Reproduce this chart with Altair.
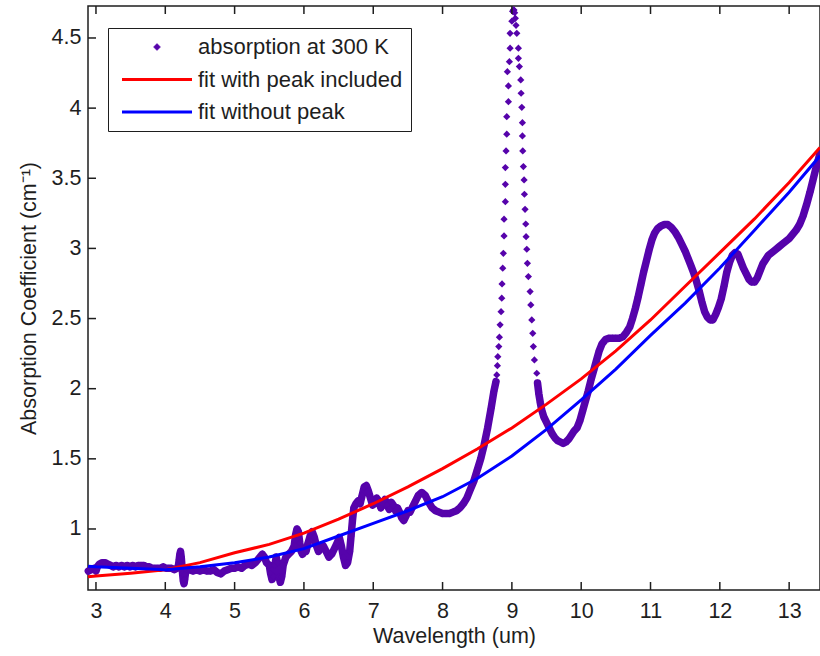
import altair as alt
import pandas as pd

FONT = "Liberation Sans"
FS = 21.5
PURPLE = "#5603AB"
RED = "#FF0000"
BLUE = "#0000FF"
INK = "#1e1e1e"

series_labels = ["absorption at 300 K", "fit with peak included", "fit without peak"]

# measured absorption (outside the narrow 9 um peak)
abs_x = [2.89, 2.93, 2.97, 3.00, 3.02, 3.05, 3.09, 3.13, 3.17, 3.21, 3.25, 3.29, 3.33, 3.37,
         3.41, 3.45, 3.49, 3.53, 3.57, 3.61, 3.65, 3.69, 3.73, 3.77, 3.81, 3.85, 3.89, 3.93,
         3.97, 4.01, 4.05, 4.09, 4.13, 4.17, 4.19, 4.20, 4.21, 4.22, 4.23, 4.24, 4.25, 4.26,
         4.27, 4.28, 4.29, 4.31, 4.35, 4.40, 4.45, 4.50, 4.55, 4.60, 4.65, 4.70, 4.75, 4.80,
         4.85, 4.90, 4.95, 5.00, 5.05, 5.10, 5.15, 5.20, 5.25, 5.30, 5.35, 5.40, 5.43, 5.46,
         5.50, 5.52, 5.54, 5.56, 5.58, 5.60, 5.62, 5.64, 5.66, 5.68, 5.70, 5.74, 5.78, 5.82,
         5.86, 5.88, 5.90, 5.92, 5.94, 5.96, 5.98, 6.00, 6.03, 6.06, 6.09, 6.12, 6.15, 6.18,
         6.21, 6.24, 6.28, 6.32, 6.36, 6.40, 6.44, 6.48, 6.51, 6.54, 6.57, 6.60, 6.63, 6.66,
         6.68, 6.70, 6.72, 6.75, 6.78, 6.81, 6.84, 6.87, 6.90, 6.93, 6.96, 6.99, 7.02, 7.05,
         7.08, 7.11, 7.14, 7.17, 7.20, 7.23, 7.26, 7.29, 7.32, 7.35, 7.38, 7.41, 7.44, 7.47,
         7.50, 7.53, 7.56, 7.60, 7.65, 7.70, 7.75, 7.80, 7.85, 7.90, 7.95, 8.00, 8.05, 8.10,
         8.15, 8.20, 8.25, 8.30, 8.35, 8.40, 8.45, 8.50, 8.55, 8.60, 8.65, 8.70, 8.74, 8.77,
         9.37, 9.39, 9.41, 9.43, 9.46, 9.50, 9.54, 9.58, 9.62, 9.66, 9.70, 9.74, 9.78, 9.82,
         9.86, 9.90, 9.94, 9.98, 10.02, 10.06, 10.10, 10.14, 10.18, 10.22, 10.26, 10.30, 10.35,
         10.40, 10.45, 10.50, 10.55, 10.60, 10.65, 10.70, 10.74, 10.78, 10.82, 10.86, 10.90,
         10.94, 10.98, 11.02, 11.06, 11.10, 11.15, 11.20, 11.25, 11.30, 11.35, 11.40, 11.45,
         11.50, 11.54, 11.58, 11.62, 11.66, 11.70, 11.74, 11.78, 11.82, 11.86, 11.90, 11.94,
         11.98, 12.02, 12.06, 12.10, 12.14, 12.18, 12.22, 12.26, 12.30, 12.34, 12.38, 12.42,
         12.46, 12.50, 12.54, 12.58, 12.62, 12.66, 12.70, 12.75, 12.80, 12.85, 12.90, 12.95,
         13.00, 13.05, 13.10, 13.15, 13.20, 13.25, 13.30, 13.34, 13.38, 13.42, 13.445]
abs_y = [0.70, 0.71, 0.72, 0.70, 0.73, 0.75, 0.76, 0.76, 0.75, 0.74, 0.73, 0.74, 0.73, 0.74,
         0.73, 0.74, 0.73, 0.74, 0.73, 0.74, 0.74, 0.74, 0.73, 0.73, 0.72, 0.72, 0.72, 0.72,
         0.73, 0.72, 0.72, 0.72, 0.71, 0.72, 0.74, 0.78, 0.82, 0.84, 0.80, 0.74, 0.68, 0.63,
         0.61, 0.64, 0.68, 0.71, 0.71, 0.70, 0.71, 0.70, 0.71, 0.70, 0.70, 0.71, 0.69, 0.68,
         0.70, 0.71, 0.72, 0.72, 0.73, 0.72, 0.74, 0.75, 0.74, 0.76, 0.79, 0.82, 0.80, 0.76,
         0.74, 0.68, 0.64, 0.66, 0.74, 0.80, 0.76, 0.66, 0.62, 0.66, 0.74, 0.80, 0.82, 0.84,
         0.88, 0.96, 1.00, 0.98, 0.90, 0.84, 0.82, 0.86, 0.84, 0.90, 0.95, 0.98, 0.94, 0.88,
         0.84, 0.86, 0.88, 0.84, 0.80, 0.82, 0.86, 0.90, 0.94, 0.88, 0.80, 0.74, 0.76, 0.84,
         0.95, 1.06, 1.15, 1.18, 1.20, 1.18, 1.24, 1.30, 1.31, 1.27, 1.22, 1.17, 1.18, 1.22,
         1.20, 1.15, 1.18, 1.21, 1.17, 1.14, 1.19, 1.17, 1.13, 1.15, 1.12, 1.08, 1.06, 1.09,
         1.13, 1.12, 1.15, 1.19, 1.24, 1.26, 1.24, 1.19, 1.15, 1.13, 1.12, 1.11, 1.11, 1.11,
         1.12, 1.13, 1.15, 1.18, 1.22, 1.28, 1.34, 1.42, 1.50, 1.60, 1.72, 1.86, 1.98, 2.05,
         2.04, 1.96, 1.90, 1.85, 1.80, 1.76, 1.72, 1.68, 1.65, 1.63, 1.62, 1.61, 1.62, 1.64,
         1.67, 1.70, 1.72, 1.77, 1.84, 1.91, 1.98, 2.06, 2.13, 2.20, 2.27, 2.32, 2.35,
         2.36, 2.36, 2.36, 2.36, 2.37, 2.40, 2.44, 2.50, 2.57, 2.65, 2.74, 2.83,
         2.91, 2.99, 3.06, 3.11, 3.14, 3.16, 3.17, 3.17, 3.15, 3.12, 3.08, 3.03,
         2.98, 2.93, 2.88, 2.83, 2.77, 2.70, 2.62, 2.55, 2.51, 2.49, 2.49, 2.53,
         2.58, 2.64, 2.73, 2.83, 2.90, 2.95, 2.97, 2.96, 2.91, 2.86, 2.82, 2.78,
         2.76, 2.76, 2.79, 2.84, 2.89, 2.92, 2.95, 2.97, 2.99, 3.01, 3.03, 3.05,
         3.07, 3.10, 3.13, 3.17, 3.23, 3.31, 3.40, 3.48, 3.56, 3.63, 3.68]

# individual markers visible on the sharp 9 um peak
peak_x = [8.782, 8.791, 8.797, 8.811, 8.820, 8.830, 8.844, 8.854, 8.858, 8.868, 8.877, 8.887,
          8.887, 8.906, 8.906, 8.906, 8.916, 8.926, 8.926, 8.950, 8.950, 8.935, 8.964, 8.974,
          8.974, 9.000, 9.010, 9.022, 9.030, 9.040, 9.050, 9.060,
          9.071, 9.094, 9.094, 9.108, 9.128, 9.133, 9.143, 9.152, 9.152, 9.157, 9.166, 9.176,
          9.181, 9.190, 9.200, 9.205, 9.215, 9.224, 9.238, 9.263, 9.273, 9.287, 9.301, 9.310,
          9.325, 9.359]
peak_y = [2.098, 2.164, 2.228, 2.300, 2.367, 2.455, 2.549, 2.645, 2.747, 2.859, 2.965, 3.089,
          3.208, 3.333, 3.457, 3.576, 3.695, 3.814, 3.939, 4.046, 4.158, 4.260, 4.331, 4.427,
          4.533, 4.620, 4.690, 4.700, 4.700, 4.680, 4.640, 4.590,
          4.533, 4.427, 4.355, 4.296, 4.201, 4.106, 4.006, 3.896, 3.802, 3.695, 3.583, 3.488,
          3.386, 3.279, 3.174, 3.084, 2.994, 2.894, 2.799, 2.692, 2.597, 2.490, 2.395, 2.300,
          2.205, 2.110]

fit_x = [2.885, 3.0, 3.5, 4.0, 4.5, 5.0, 5.5, 6.0, 6.5, 7.0, 7.5, 8.0, 8.5, 9.0, 9.5, 10.0,
         10.5, 11.0, 11.5, 12.0, 12.5, 13.0, 13.445]
fit_with_peak = [0.66, 0.665, 0.685, 0.71, 0.76, 0.83, 0.89, 0.97, 1.07, 1.18, 1.30, 1.43,
                 1.57, 1.72, 1.89, 2.07, 2.27, 2.49, 2.73, 2.97, 3.21, 3.47, 3.72]
fit_without_peak = [0.735, 0.73, 0.72, 0.71, 0.73, 0.76, 0.80, 0.86, 0.95, 1.04, 1.13, 1.23,
                    1.36, 1.52, 1.71, 1.92, 2.14, 2.38, 2.61, 2.86, 3.13, 3.40, 3.66]

x_ticks = [3, 4, 5, 6, 7, 8, 9, 10, 11, 12, 13]
y_ticks = [1, 1.5, 2, 2.5, 3, 3.5, 4, 4.5]

W, H = 732, 584
TICK = 8

df_band = pd.DataFrame({"x": abs_x, "y": abs_y, "series": series_labels[0]})
df_band["seg"] = (df_band["x"] > 9).astype(int)
df_pts = pd.concat([df_band[["x", "y", "series"]],
                    pd.DataFrame({"x": peak_x, "y": peak_y, "series": series_labels[0]})],
                   ignore_index=True)
df_fit = pd.concat([
    pd.DataFrame({"x": fit_x, "y": fit_with_peak, "series": series_labels[1]}),
    pd.DataFrame({"x": fit_x, "y": fit_without_peak, "series": series_labels[2]}),
], ignore_index=True)
df_xt = pd.DataFrame({"x": x_ticks})
df_yt = pd.DataFrame({"y": y_ticks})

xscale = alt.Scale(domain=[2.885, 13.445], nice=False, zero=False)
yscale = alt.Scale(domain=[0.565, 4.728], nice=False, zero=False)

X = alt.X("x:Q", scale=xscale,
          axis=alt.Axis(values=x_ticks, format="d", title="Wavelength (um)", ticks=False,
                        tickSize=0, domain=False, grid=False, labelPadding=10,
                        titlePadding=4, labelFlush=False))
Y = alt.Y("y:Q", scale=yscale,
          axis=alt.Axis(values=y_ticks, format="~g", title="Absorption Coefficient (cm⁻¹)",
                        ticks=False, tickSize=0, domain=False, grid=False, labelPadding=7,
                        titlePadding=11))

T0 = f"datum.value === '{series_labels[0]}'"
T1 = f"datum.value === '{series_labels[1]}'"
legend = alt.Legend(
    title=None, orient="none", legendX=20, legendY=22, padding=8,
    strokeColor=INK, fillColor="white", cornerRadius=0,
    labelFont=FONT, labelFontSize=22, labelColor=INK, labelLimit=500,
    symbolSize=196, symbolOffset=30, labelOffset=30, rowPadding=10.5,
    symbolType={"expr": f"{T0} ? 'M-0.5,0L0,-0.5L0.5,0L0,0.5Z' : 'M-5,0H5'"},
    symbolStrokeWidth={"expr": f"{T0} ? 0.5 : 3"},
    symbolStrokeColor={"expr": f"{T0} ? '{PURPLE}' : ({T1} ? '{RED}' : '{BLUE}')"},
    symbolFillColor={"expr": f"{T0} ? '{PURPLE}' : 'transparent'"},
    symbolOpacity=1,
)
color = alt.Color("series:N", scale=alt.Scale(domain=series_labels, range=[PURPLE, RED, BLUE]),
                  legend=legend)

band = alt.Chart(df_band).mark_line(strokeWidth=7.5, strokeJoin="round", strokeCap="round").encode(
    x=X, y=Y, color=color, detail="seg:N")
pts = alt.Chart(df_pts).mark_point(shape="diamond", filled=True, size=52, opacity=1).encode(
    x=X, y=Y, color=color)
fits = alt.Chart(df_fit).mark_line(strokeWidth=3).encode(x=X, y=Y, color=color)

xt_bottom = alt.Chart(df_xt).mark_rule(color=INK, strokeWidth=1.5).encode(
    x=X, y=alt.value(H), y2=alt.value(H - TICK))
xt_top = alt.Chart(df_xt).mark_rule(color=INK, strokeWidth=1.5).encode(
    x=X, y=alt.value(0), y2=alt.value(TICK))
yt_left = alt.Chart(df_yt).mark_rule(color=INK, strokeWidth=1.5).encode(
    y=Y, x=alt.value(0), x2=alt.value(TICK))

chart = alt.layer(band, pts, fits, xt_bottom, xt_top, yt_left).properties(
    width=W, height=H,
    padding={"left": 88, "top": 6, "right": 0, "bottom": 66},
    autosize=alt.AutoSizeParams(type="none"),
    background="white",
).configure_view(
    stroke=INK, strokeWidth=1.5
).configure_axis(
    labelFont=FONT, labelFontSize=FS, labelColor=INK,
    titleFont=FONT, titleFontSize=FS, titleColor=INK, titleFontWeight="normal",
)

chart.save("out.html", embed_options={"renderer": "svg", "actions": False})
